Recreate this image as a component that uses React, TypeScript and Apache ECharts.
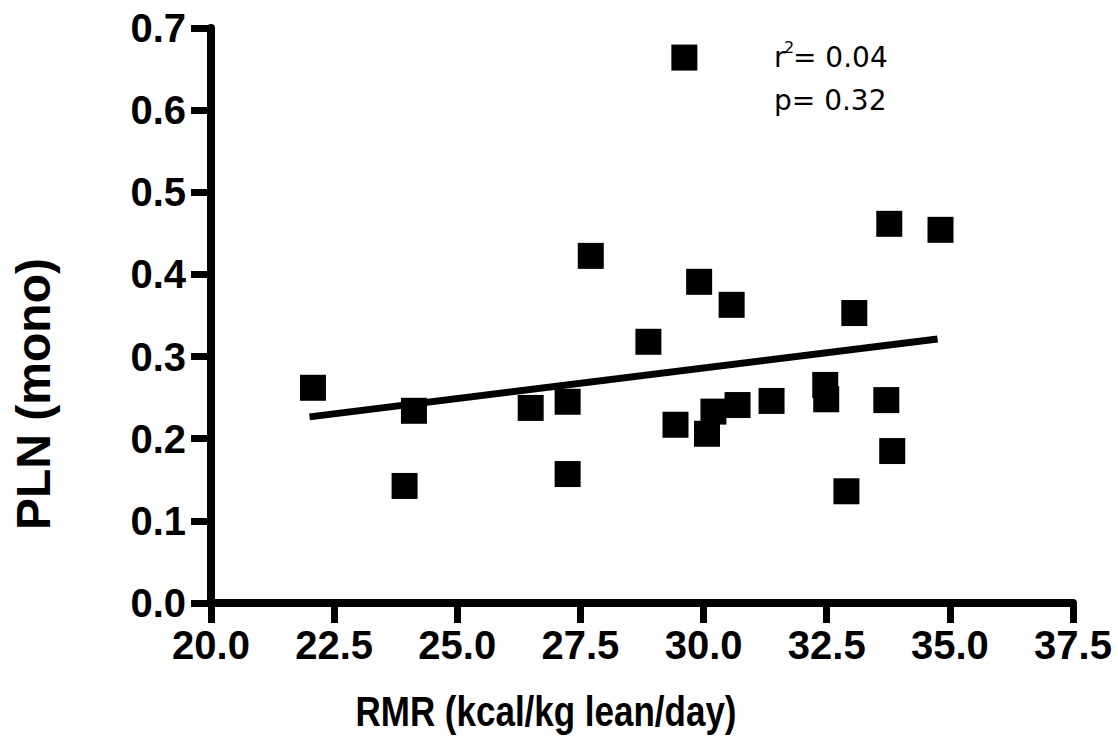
import React, { useEffect, useRef } from "react";
import * as echarts from "echarts";

const rmr = [22.07, 23.93, 24.12, 26.49, 27.24, 27.24, 27.71, 28.88, 29.61, 29.43, 29.91, 30.07, 30.2, 30.57, 30.69, 31.38, 32.47, 32.49, 33.06, 32.9, 33.77, 34.81, 33.71, 33.83];
const pln = [0.262, 0.1425, 0.234, 0.2375, 0.245, 0.157, 0.4226, 0.318, 0.664, 0.217, 0.391, 0.206, 0.233, 0.363, 0.241, 0.246, 0.2655, 0.248, 0.353, 0.136, 0.4616, 0.4543, 0.247, 0.185];
const fitX = [22.0, 34.75];
const fitY = [0.2266, 0.3215];
const xTicks = { min: 20, max: 37.5, interval: 2.5 };
const yTicks = { min: 0, max: 0.7, interval: 0.1 };
const xTitle = "RMR (kcal/kg lean/day)";
const yTitle = "PLN (mono)";
const statR2 = "= 0.04";
const statP = "p= 0.32";

export default function App() {
  const ref = useRef<HTMLDivElement>(null);
  useEffect(() => {
    if (!ref.current) return;
    const chart = echarts.init(ref.current, undefined, { renderer: "svg" });
    const labelFont = {
      color: "#000",
      fontFamily: "Liberation Sans, Arial, sans-serif",
      fontWeight: "bold" as const,
      fontSize: 40,
    };
    chart.setOption({
      animation: false,
      backgroundColor: "#fff",
      grid: { left: 211, right: 45, top: 28, bottom: 135 },
      xAxis: {
        type: "value",
        min: xTicks.min,
        max: xTicks.max,
        interval: xTicks.interval,
        splitLine: { show: false },
        axisLine: { show: true, onZero: false, lineStyle: { color: "#000", width: 8 } },
        axisTick: { show: true, length: 20, lineStyle: { color: "#000", width: 7 } },
        axisLabel: { ...labelFont, margin: 22, formatter: (v: number) => v.toFixed(1), showMinLabel: true, showMaxLabel: true },
      },
      yAxis: {
        type: "value",
        min: yTicks.min,
        max: yTicks.max,
        interval: yTicks.interval,
        splitLine: { show: false },
        axisLine: { show: true, onZero: false, lineStyle: { color: "#000", width: 8 } },
        axisTick: { show: true, length: 20, lineStyle: { color: "#000", width: 7 } },
        axisLabel: { ...labelFont, margin: 25, formatter: (v: number) => v.toFixed(1), showMinLabel: true, showMaxLabel: true },
      },
      series: [
        {
          type: "scatter",
          symbol: "rect",
          symbolSize: 26,
          itemStyle: { color: "#000", opacity: 1 },
          data: rmr.map((x, i) => [x, pln[i]]),
        },
        {
          type: "line",
          symbol: "none",
          lineStyle: { color: "#000", width: 7, opacity: 1 },
          data: fitX.map((x, i) => [x, fitY[i]]),
        },
      ],
      graphic: [
        {
          type: "text",
          x: 546,
          y: 711,
          scaleY: 1.2,
          style: {
            text: xTitle,
            fill: "#000",
            font: "bold 35px 'Liberation Sans', Arial, sans-serif",
            align: "center",
            verticalAlign: "middle",
          },
        },
        {
          type: "text",
          x: 33,
          y: 394,
          rotation: Math.PI / 2,
          style: {
            text: yTitle,
            fill: "#000",
            font: "bold 48px 'Liberation Sans', Arial, sans-serif",
            align: "center",
            verticalAlign: "middle",
          },
        },
        {
          type: "text",
          x: 774,
          y: 57,
          style: { text: "r", fill: "#000", font: "28px 'DejaVu Sans', sans-serif", align: "left", verticalAlign: "middle" },
        },
        {
          type: "text",
          x: 784,
          y: 47,
          style: { text: "2", fill: "#000", font: "16px 'DejaVu Sans', sans-serif", align: "left", verticalAlign: "middle" },
        },
        {
          type: "text",
          x: 793,
          y: 57,
          style: { text: statR2, fill: "#000", font: "28px 'DejaVu Sans', sans-serif", align: "left", verticalAlign: "middle" },
        },
        {
          type: "text",
          x: 774,
          y: 100,
          style: { text: statP, fill: "#000", font: "28px 'DejaVu Sans', sans-serif", align: "left", verticalAlign: "middle" },
        },
      ],
    });
    return () => chart.dispose();
  }, []);
  return (
    <div
      ref={ref}
      style={{ position: "fixed", left: 0, top: 0, width: 1118, height: 738, background: "#fff" }}
    />
  );
}
